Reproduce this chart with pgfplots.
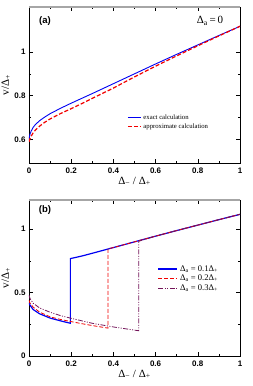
\documentclass[border=0pt]{standalone}
\usepackage{fontspec}
\setmainfont{Liberation Serif}
\newfontfamily\hel{Liberation Sans}
\usepackage{pgfplots}
\pgfplotsset{compat=1.18}
\definecolor{mypurple}{rgb}{0.45,0.08,0.35}
\definecolor{myblue}{rgb}{0,0,0.95}
\definecolor{myred}{rgb}{0.95,0,0}

\pgfplotsset{panel/.style={
  scale only axis, width=211pt, height=156pt,
  xmin=0, xmax=1,
  xtick={0,0.2,0.4,0.6,0.8,1}, xticklabels={0,0.2,0.4,0.6,0.8,1},
  minor x tick num=1,
  tick align=inside, tick pos=both,
  major tick length=4pt, minor tick length=2pt,
  every tick/.style={black, line width=0.6pt},
  axis line style={line width=0.8pt},
  /pgf/number format/assume math mode=true,
  ticklabel style={font=\hel\bfseries\fontsize{8}{9}\selectfont},
  xticklabel style={yshift=-1pt},
  label style={font=\fontsize{11}{12}\selectfont},
  xlabel={Δ\textsubscript{−} / Δ\textsubscript{+}},
  ylabel={v/Δ\textsubscript{+}},
  xlabel style={yshift=3pt},
  ylabel style={yshift=-3pt},
  legend cell align=left,
}}

\begin{document}
\begin{tikzpicture}
% ---------------- panel (a)
\begin{axis}[panel, at={(29pt,223pt)}, anchor=south west,
  ymin=0.493, ymax=1.205,
  ytick={0.6,0.8,1}, yticklabels={0.6,0.8,1}, minor y tick num=1,
  legend style={draw=none, fill=none, at={(axis cs:0.46,0.728)}, anchor=north west,
    font=\fontsize{6.7}{7}\selectfont, row sep=-1.5pt, inner sep=1pt},
  legend image code/.code={\draw[#1] (0pt,0pt) -- (13pt,0pt);},
]
\addplot[myblue, line width=0.9pt] coordinates {
(0,0.600) (0.002,0.612) (0.005,0.625) (0.01,0.638) (0.02,0.656) (0.03,0.668)
(0.05,0.686) (0.075,0.703) (0.1,0.718) (0.15,0.743) (0.2,0.766) (0.25,0.788)
(0.3,0.810) (0.4,0.855) (0.5,0.900) (0.6,0.945) (0.7,0.989) (0.8,1.032)
(0.9,1.075) (1.0,1.117)};
\addlegendentry{exact calculation}
\addplot[myred, line width=1.2pt, dash pattern=on 4pt off 2pt] coordinates {
(0,0.590) (0.005,0.605) (0.01,0.615) (0.02,0.631) (0.03,0.643) (0.05,0.661)
(0.075,0.679) (0.1,0.694) (0.15,0.719) (0.2,0.741) (0.25,0.764) (0.3,0.788)
(0.4,0.835) (0.5,0.886) (0.6,0.935) (0.7,0.982) (0.8,1.028) (0.9,1.073)
(1.0,1.117)};
\addlegendentry{approximate calculation}
\draw[gray!70, line width=1.6pt] (rel axis cs:0,1) -- (rel axis cs:1,1);
\node[font=\hel\bfseries\fontsize{9.5}{10}\selectfont] at (rel axis cs:0.076,0.91) {(a)};
\node[font=\fontsize{11}{12}\selectfont] at (rel axis cs:0.858,0.91) {Δ\textsubscript{a}\,=\,0};
\end{axis}
% ---------------- panel (b)
\begin{axis}[panel, at={(29pt,30pt)}, anchor=south west,
  ymin=0, ymax=1.23,
  ytick={0,0.5,1}, yticklabels={0,0.5,1}, minor y tick num=1,
  legend style={draw=none, fill=none, at={(axis cs:0.605,0.74)}, anchor=north west,
    font=\fontsize{8.6}{9}\selectfont, row sep=-1.5pt, inner sep=1pt},
  legend image code/.code={\draw[#1] (0pt,0pt) -- (19pt,0pt);},
]
\addplot[myblue, line width=1.2pt] coordinates {
(0,0.420) (0.005,0.400) (0.02,0.366) (0.05,0.333) (0.1,0.299) (0.15,0.277)
(0.196,0.258) (0.196,0.768) (0.25,0.788) (0.3,0.810) (0.4,0.855) (0.5,0.900)
(0.6,0.945) (0.7,0.989) (0.8,1.032) (0.9,1.075) (1.0,1.117)};
\addlegendentry{Δ\textsubscript{a} = 0.1Δ\textsubscript{+}}
\addplot[myred, line width=0.8pt, dash pattern=on 4pt off 2pt] coordinates {
(0,0.440) (0.005,0.416) (0.02,0.385) (0.05,0.346) (0.1,0.309) (0.15,0.288)
(0.2,0.271) (0.25,0.255) (0.3,0.240) (0.374,0.220) (0.374,0.845) (0.4,0.855)
(0.5,0.900) (0.6,0.945) (0.7,0.989) (0.8,1.032) (0.9,1.075) (1.0,1.117)};
\addlegendentry{Δ\textsubscript{a} = 0.2Δ\textsubscript{+}}
\addplot[mypurple, line width=0.8pt, dash pattern=on 5pt off 1.5pt on 1pt off 1.5pt on 1pt off 1.5pt] coordinates {
(0,0.480) (0.005,0.452) (0.02,0.416) (0.05,0.379) (0.1,0.345) (0.15,0.318)
(0.2,0.297) (0.3,0.258) (0.4,0.229) (0.52,0.199) (0.52,0.905) (0.6,0.945)
(0.7,0.989) (0.8,1.032) (0.9,1.075) (1.0,1.117)};
\addlegendentry{Δ\textsubscript{a} = 0.3Δ\textsubscript{+}}
\draw[gray!70, line width=1.6pt] (rel axis cs:0,1) -- (rel axis cs:1,1);
\node[font=\hel\bfseries\fontsize{9.5}{10}\selectfont] at (rel axis cs:0.076,0.935) {(b)};
\end{axis}
\pgfresetboundingbox
\path (0,0) rectangle (252pt,386pt);
\end{tikzpicture}
\end{document}
